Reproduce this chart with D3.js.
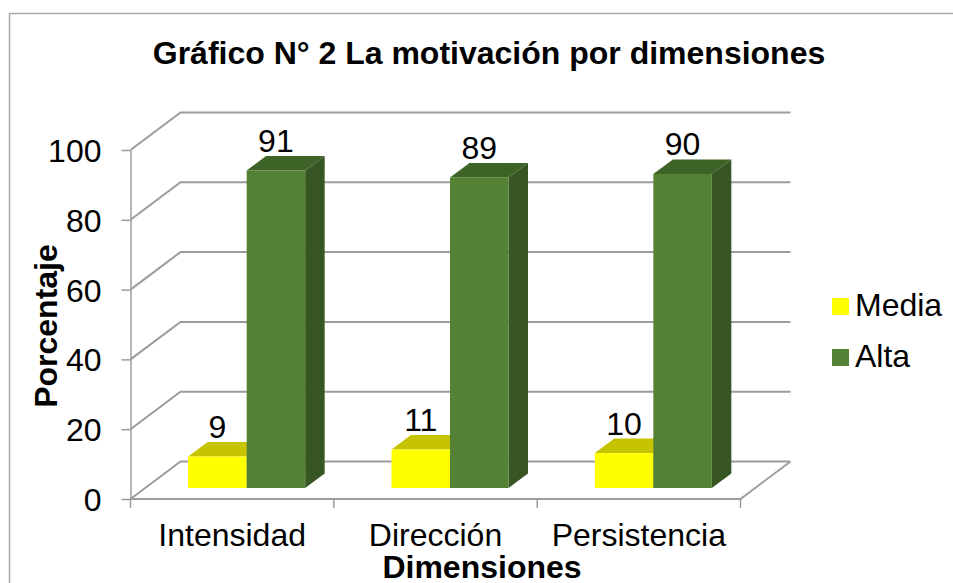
<!DOCTYPE html>
<meta charset="utf-8">
<head>
    <title>La motivación por dimensiones</title>
</head>
<style>
	html, body { margin: 0; padding: 0; background: #fff; overflow: hidden; }
	svg { display: block; }
	text { font-family: "Liberation Sans", Arial, sans-serif; fill: #000; }
	.grid { fill: none; stroke: #9c9c9c; stroke-width: 2px; }
	.axis path, .axis line { stroke: #9c9c9c; stroke-width: 1.5px; }
	.axis text { font-size: 32px; }
	.label { font-size: 32px; text-anchor: middle; }
	.title { font-size: 32px; font-weight: bold; text-anchor: middle; }
	.axis-title { font-size: 32px; font-weight: bold; text-anchor: middle; }
</style>
<body>
<script src="https://cdn.jsdelivr.net/npm/d3@7"></script>
<script>
var categories = ["Intensidad", "Dirección", "Persistencia"];
var seriesNames = ["Media", "Alta"];
var media = [9, 11, 10];
var alta = [91, 89, 90];
var yTicks = [0, 20, 40, 60, 80, 100];

var colors = {
  Media: {front: "#ffff00", top: "#c6c400", side: "#a8a600"},
  Alta: {front: "#548235", top: "#3e6327", side: "#375623"}
};

var width = 953, height = 583;

var svg = d3.select("body").append("svg")
    .attr("width", width)
    .attr("height", height);

// chart frame, runs off the picture on the right and at the bottom
svg.append("rect")
    .attr("x", 9.5).attr("y", 13.5)
    .attr("width", 960).attr("height", 600)
    .attr("fill", "#fff")
    .attr("stroke", "#a6a6a6")
    .attr("stroke-width", 1.5);

svg.append("text").attr("class", "title")
    .attr("x", 489).attr("y", 64)
    .text("Gráfico N° 2 La motivación por dimensiones");

// scales
var x0 = d3.scaleBand().domain(categories).range([130.5, 740.5]).paddingInner(0).paddingOuter(0);
var y = d3.scaleLinear().domain([0, 100]).range([499, 150]);
var inner = d3.scaleBand().domain(seriesNames).range([0, 117]);

// wall depth and bar depth offsets
var wallDx = 50, wallDy = -37.5;
var barShift = {x: 14.5, y: -11};
var barDepth = {x: 19.5, y: -14.5};

// gridlines on the side and back walls
svg.append("g").selectAll("polyline")
    .data(yTicks)
    .enter().append("polyline")
    .attr("class", "grid")
    .attr("points", function(d) {
      return [[x0.range()[0], y(d)],
              [x0.range()[0] + wallDx, y(d) + wallDy],
              [x0.range()[1] + wallDx, y(d) + wallDy]].join(" ");
    });

// floor front edge and right edge
svg.append("polyline")
    .attr("class", "grid")
    .attr("points", [[x0.range()[0], y(0)], [x0.range()[1], y(0)],
                     [x0.range()[1] + wallDx, y(0) + wallDy]].join(" "));

// y axis
svg.append("g")
    .attr("class", "axis")
    .attr("transform", "translate(" + x0.range()[0] + ",0)")
    .call(d3.axisLeft(y).tickValues(yTicks).tickSize(9).tickPadding(20).tickSizeOuter(0))
    .call(function(g) { g.selectAll("text").attr("dy", "0.36em"); });

// x axis: ticks on band edges, labels in band centres
var edges = categories.map(function(c) { return x0(c); }).concat(x0.range()[1]);
svg.append("g")
    .attr("transform", "translate(0," + y(0) + ")")
    .selectAll("line")
    .data(edges)
    .enter().append("line")
    .attr("x1", function(d) { return d; })
    .attr("x2", function(d) { return d; })
    .attr("y1", 0).attr("y2", 9)
    .attr("stroke", "#9c9c9c")
    .attr("stroke-width", 1.5);

svg.append("g")
    .attr("class", "axis")
    .attr("transform", "translate(0," + y(0) + ")")
    .call(d3.axisBottom(x0).tickSize(0).tickPadding(24))
    .call(function(g) { g.select(".domain").remove(); });

// bars, one series after the other so that the green covers the yellow's side
var rows = [];
seriesNames.forEach(function(name, s) {
  var values = s === 0 ? media : alta;
  categories.forEach(function(cat, i) {
    rows.push({name: name, cat: cat, value: values[i]});
  });
});

var barW = inner.bandwidth();
var groupPad = (x0.bandwidth() - inner.range()[1]) / 2;
var barX = function(d) { return x0(d.cat) + groupPad + inner(d.name) + barShift.x; };
var barTop = function(d) { return y(d.value) + barShift.y; };
var barBottom = y(0) + barShift.y;

var bars = svg.append("g").selectAll("g")
    .data(rows)
    .enter().append("g");

bars.append("polygon")
    .attr("fill", function(d) { return colors[d.name].side; })
    .attr("points", function(d) {
      var r = barX(d) + barW;
      return [[r, barTop(d)], [r + barDepth.x, barTop(d) + barDepth.y],
              [r + barDepth.x, barBottom + barDepth.y], [r, barBottom]].join(" ");
    });

bars.append("polygon")
    .attr("fill", function(d) { return colors[d.name].top; })
    .attr("points", function(d) {
      var l = barX(d), t = barTop(d);
      return [[l, t], [l + barDepth.x, t + barDepth.y],
              [l + barW + barDepth.x, t + barDepth.y], [l + barW, t]].join(" ");
    });

bars.append("rect")
    .attr("fill", function(d) { return colors[d.name].front; })
    .attr("x", barX)
    .attr("y", barTop)
    .attr("width", barW)
    .attr("height", function(d) { return barBottom - barTop(d); });

// data labels
svg.append("g").selectAll("text")
    .data(rows)
    .enter().append("text")
    .attr("class", "label")
    .attr("x", function(d) { return barX(d) + barW / 2; })
    .attr("y", function(d) { return barTop(d) - 18.5; })
    .text(function(d) { return d.value; });

// axis titles
svg.append("text").attr("class", "axis-title")
    .attr("transform", "translate(57,326) rotate(-90)")
    .text("Porcentaje");

svg.append("text").attr("class", "axis-title")
    .attr("x", 482).attr("y", 578)
    .text("Dimensiones");

// legend
var legendY = d3.scalePoint().domain(seriesNames).range([306.5, 357.5]);
var legend = svg.append("g").selectAll("g")
    .data(seriesNames)
    .enter().append("g")
    .attr("transform", function(d) { return "translate(832," + legendY(d) + ")"; });

legend.append("rect")
    .attr("y", -8.5).attr("width", 17).attr("height", 17)
    .attr("fill", function(d) { return colors[d].front; });

legend.append("text")
    .attr("x", 23).attr("dy", "0.3em")
    .style("font-size", "32px")
    .text(function(d) { return d; });
</script>
</body>
